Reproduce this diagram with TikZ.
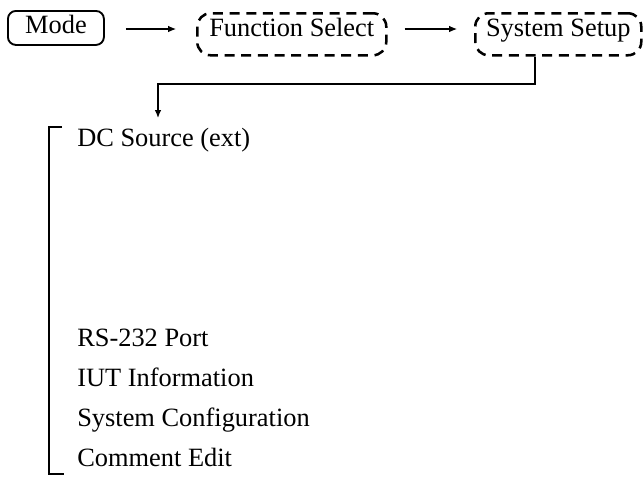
\documentclass[tikz,border=0pt]{standalone}
\usepackage{fontspec}
\setmainfont{Liberation Serif}
\usetikzlibrary{arrows.meta,calc}
\tikzset{
  lbl/.style={font=\fontsize{19.8pt}{24pt}\selectfont},
  modebox/.style={lbl, draw, line width=1.4pt, rounded corners=6pt, anchor=north west,
    minimum width=72pt, inner xsep=0pt, inner ysep=3.75pt, text height=13.5pt, text depth=4.5pt},
  dashbox/.style={lbl, draw, line width=1.9pt, dash pattern=on 7.5pt off 5pt, rounded corners=10pt,
    anchor=north west, inner xsep=0pt, inner ysep=3.75pt, text height=13.5pt, text depth=10.5pt},
  arr/.style={line width=0.8pt, -{Latex[length=6pt,width=5pt]}},
  conn/.style={line width=1pt},
  item/.style={lbl, anchor=base west, inner sep=0pt}
}
\begin{document}
\begin{tikzpicture}[x=0.75pt,y=-0.75pt]
\useasboundingbox (0,0) rectangle (644,476);
\node[modebox] (mode) at (7,10) {Mode};
\node[dashbox, minimum width=141.75pt] (fs) at (196,12) {Function Select};
\node[dashbox, minimum width=124.5pt] (ss) at (474,12) {System Setup};
\draw[arr, shorten <=15.75pt, shorten >=15pt] (mode.east |- 0,29) -- (fs.west |- 0,29);
\draw[arr, shorten <=12.75pt, shorten >=12.75pt] (fs.east |- 0,29) -- (ss.west |- 0,29);
\coordinate (tip) at (158,118);
\draw[conn, arr, line width=1pt] (ss.south -| 535,0) -- (535,84) -- (tip |- 0,84) -- (tip);
\node[item] (dc) at (77,146) {DC Source (ext)};
\node[item] (rs) at (77,346) {RS-232 Port};
\node[item] (iut) at (77,386) {IUT Information};
\node[item] (sc) at (77,426) {System Configuration};
\node[item] (ce) at (77,466) {Comment Edit};
\draw[conn] (62,127) -- (49,127) -- (49,474) -- (64,474);
\end{tikzpicture}
\end{document}
